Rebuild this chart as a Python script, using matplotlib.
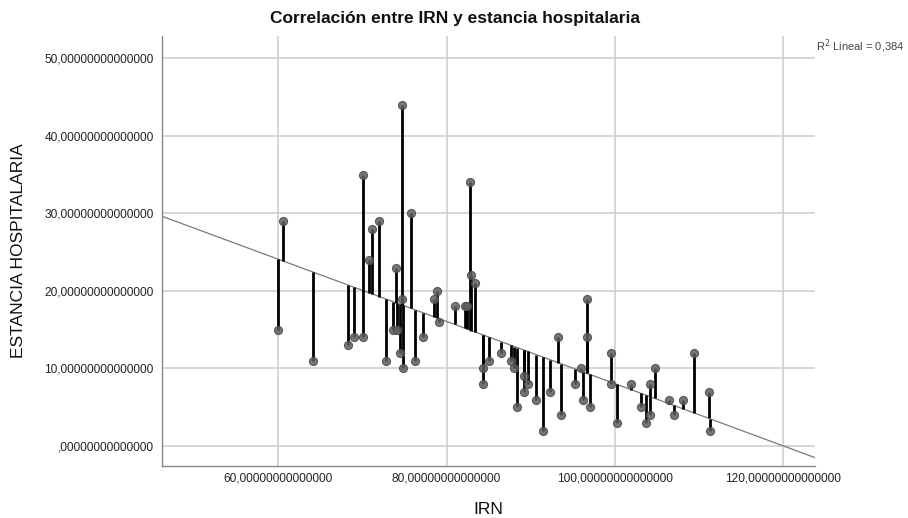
import numpy as np
import matplotlib
matplotlib.use("Agg")
import matplotlib.pyplot as plt
from matplotlib.ticker import FuncFormatter

plt.rcParams['font.family'] = ['Liberation Sans', 'DejaVu Sans']

# Data (IRN vs. hospital stay)
irn = [59.93, 60.60, 64.17, 68.24, 69.01, 70.00, 70.05, 70.83, 71.10, 72.02,
       72.79, 73.60, 74.15, 73.98, 74.40, 74.69, 74.69, 74.81, 75.76, 76.27,
       77.14, 78.54, 78.86, 79.10, 80.95, 82.14, 82.43, 82.74, 82.92, 83.36,
       84.29, 84.29, 85.00, 86.51, 87.70, 88.06, 88.38, 89.17, 89.17, 89.64,
       90.68, 91.49, 92.31, 93.30, 93.60, 95.32, 95.98, 96.27, 96.67, 96.67,
       97.02, 99.58, 99.49, 100.20, 101.93, 103.06, 103.65, 104.17, 104.17, 104.76,
       106.48, 107.02, 108.06, 109.40, 111.19, 111.31]
estancia = [15, 29, 11, 13, 14, 14, 35, 24, 28, 29,
            11, 15, 15, 23, 12, 44, 19, 10, 30, 11,
            14, 19, 20, 16, 18, 18, 18, 34, 22, 21,
            10, 8, 11, 12, 11, 10, 5, 9, 7, 8,
            6, 2, 7, 14, 4, 8, 10, 6, 19, 14,
            5, 12, 8, 3, 8, 5, 3, 8, 4, 10,
            6, 4, 6, 12, 7, 2]

x_ticks = [60, 80, 100, 120]
y_ticks = [0, 10, 20, 30, 40, 50]
title = "Correlación entre IRN y estancia hospitalaria"
x_label = "IRN"
y_label = "ESTANCIA HOSPITALARIA"
r2_label = "R$^2$ Lineal = 0,384"

x = np.array(irn, dtype=float)
y = np.array(estancia, dtype=float)
slope, intercept = np.polyfit(x, y, 1)
yhat = intercept + slope * x

fig = plt.figure(figsize=(9.08, 5.18), dpi=100)
ax = fig.add_axes([162 / 908, 52 / 518, (815 - 162) / 908, (466 - 36) / 518])

xlim = (46.16, 123.8)
ylim = (-2.58, 52.9)
ax.set_xlim(*xlim)
ax.set_ylim(*ylim)


def fmt_func(v, p):
    s = ("%.14f" % v).replace(".", ",")
    if v == 0:
        s = s.lstrip("0")
    return s


ax.set_xticks(x_ticks)
ax.set_yticks(y_ticks)
ax.xaxis.set_major_formatter(FuncFormatter(fmt_func))
ax.yaxis.set_major_formatter(FuncFormatter(fmt_func))
ax.tick_params(length=0, labelsize=8.6, colors='#222222')
ax.tick_params(axis='y', pad=6)
ax.tick_params(axis='x', pad=5)

ax.grid(True, color='#cccccc', linewidth=1.1)
ax.set_axisbelow(True)
for s in ['top', 'right']:
    ax.spines[s].set_visible(False)
for s in ['left', 'bottom']:
    ax.spines[s].set_color('#888888')
    ax.spines[s].set_linewidth(1.0)

# regression line
xl = np.array(xlim)
ax.plot(xl, intercept + slope * xl, color='#7a7a7a', linewidth=0.9, zorder=2)

# drop lines from points to the fit line
ax.vlines(x, yhat, y, color='black', linewidth=2.0, zorder=3)
ax.scatter(x, y, s=34, color='#5e5e5e', alpha=0.85, edgecolors='#4a4a4a',
           linewidths=0.8, zorder=4)

fig.text(455 / 908, 1 - 18 / 518, title, ha='center', va='center',
         fontsize=12.5, fontweight='bold', color='#111111')
fig.text(488 / 908, 1 - 510 / 518, x_label, ha='center', va='center',
         fontsize=12.5, color='#111111')
ax.set_ylabel(y_label, fontsize=12.5, color='#111111')
ax.yaxis.set_label_coords(-0.208, 0.5)

fig.text(816 / 908, 1 - 46 / 518, r2_label,
         ha='left', va='center', fontsize=8, color='#444444')

fig.savefig("out.png", dpi=100)
